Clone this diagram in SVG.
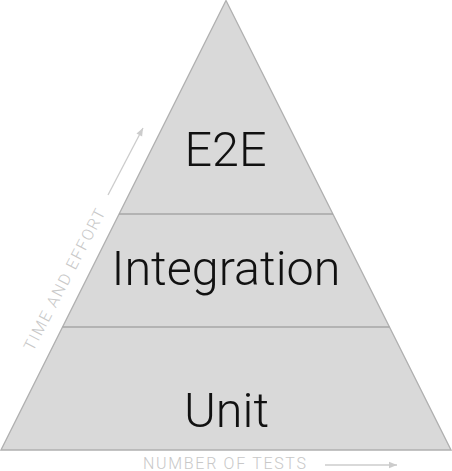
<svg xmlns="http://www.w3.org/2000/svg" width="452" height="471" viewBox="0 0 452 471">
<defs>
<style>
.lbl{font-family:Roboto,"Liberation Sans",sans-serif;font-weight:300;font-size:48.5px;fill:#111;text-anchor:middle}
.axis{font-family:Roboto,"Liberation Sans",sans-serif;font-weight:300;font-size:16px;letter-spacing:1.7px;fill:#c8c8c8}
.ax{stroke:#cccccc;stroke-width:1.3;fill:none}
.sep{stroke:#a6a6a6;stroke-width:1.3}
</style>
<marker id="ah" viewBox="0 0 10 10" refX="10" refY="5" markerWidth="10" markerHeight="8" markerUnits="userSpaceOnUse" orient="auto">
<path d="M0,1 L10,5 L0,9 Z" fill="#cccccc"/>
</marker>
</defs>
<g id="pyramid">
<polygon points="226,0.5 451,450 1,450" fill="#d9d9d9" stroke="#b0b0b0" stroke-width="1.3"/>
</g>
<g id="connectors">
<line class="sep" x1="119" y1="214" x2="333" y2="214"/>
<line class="sep" x1="62.5" y1="327" x2="389.5" y2="327"/>
<line class="ax" x1="108" y1="195" x2="143" y2="128" marker-end="url(#ah)"/>
<line class="ax" x1="325" y1="465" x2="397" y2="465" marker-end="url(#ah)"/>
</g>
<g id="e2e"><text class="lbl" x="225.5" y="166">E2E</text></g>
<g id="integration"><text class="lbl" x="226" y="285">Integration</text></g>
<g id="unit"><text class="lbl" x="226.5" y="427">Unit</text></g>
<g id="axis-x"><text class="axis" x="143" y="469">NUMBER OF TESTS</text></g>
<g id="axis-y"><text class="axis" transform="translate(33,352) rotate(-62.5)">TIME AND EFFORT</text></g>
</svg>
